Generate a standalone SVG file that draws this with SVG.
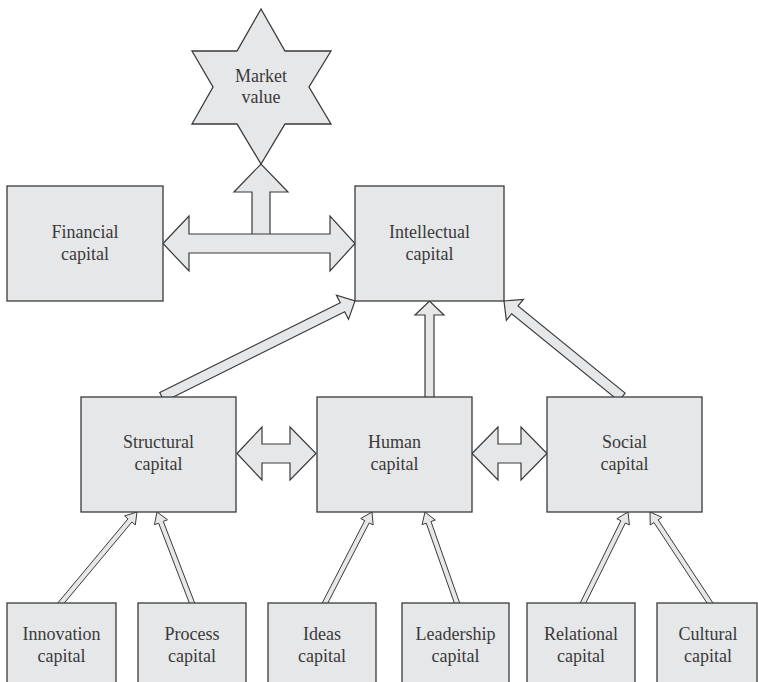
<svg xmlns="http://www.w3.org/2000/svg" width="758" height="682" viewBox="0 0 758 682">
<rect width="758" height="682" fill="#ffffff"/>
<g id="connectors" fill="#e6e7e8" stroke="#3a3a3a" stroke-width="1.2">
<polygon points="252,240 252,192 234,192 261,164 288,192 270,192 270,240"/>
<polygon points="163,243.5 189,216 189,234 330,234 330,216 355,243.5 330,271 330,253 189,253 189,271"/>
<polygon points="164.23,401.48 344.70,311.72 348.48,319.33 355,301 336.46,295.15 340.24,302.76 159.77,392.52"/>
<polygon points="425,400 425,315 415,315 429.5,301 444,315 434,315 434,400"/>
<polygon points="625.16,393.12 518.02,305.96 523.38,299.37 504,301 506.34,320.31 511.70,313.72 618.84,400.88"/>
<polygon points="237,453.5 262,427 262,444 290,444 290,427 316,453.5 290,480 290,463 262,463 262,480"/>
<polygon points="472,453.5 498,427 498,444 521,444 521,427 547,453.5 521,480 521,463 498,463 498,480"/>
<g stroke-width="1">
<polygon points="59.72,608.44 131.87,522.04 135.32,524.93 137,512 124.58,515.95 128.03,518.84 55.88,605.24"/>
<polygon points="196.13,606.77 163.28,521.37 167.48,519.76 157,512 154.42,524.78 158.62,523.17 191.47,608.57"/>
<polygon points="324.93,608.59 369.17,522.92 373.17,524.98 372,512 360.73,518.56 364.73,520.62 320.49,606.29"/>
<polygon points="461.02,606.89 431.01,521.55 435.25,520.06 425,512 422.05,524.70 426.29,523.21 456.30,608.55"/>
<polygon points="583.02,608.59 625.36,522.97 629.39,524.96 628,512 616.85,518.76 620.88,520.75 578.54,606.37"/>
<polygon points="714.84,605.79 658.15,519.80 661.90,517.33 650,512 650.22,525.03 653.97,522.56 710.66,608.55"/>
</g>
</g>
<g id="nodes" fill="#e6e7e8" stroke="#3a3a3a" stroke-width="1.3">
<g id="market-value">
<polygon points="261,9 285,51 331,51 309,87 331,124 285,124 261,164 237,124 192,124 213,87 192,51 237,51"/>
</g>
<g id="financial-capital"><rect x="7" y="186" width="156" height="115"/></g>
<g id="intellectual-capital"><rect x="355" y="186" width="149" height="115"/></g>
<g id="structural-capital"><rect x="81" y="397" width="155" height="115"/></g>
<g id="human-capital"><rect x="317" y="397" width="155" height="115"/></g>
<g id="social-capital"><rect x="547" y="397" width="155" height="115"/></g>
<g id="innovation-capital"><rect x="7" y="603" width="109" height="100"/></g>
<g id="process-capital"><rect x="138" y="603" width="108" height="100"/></g>
<g id="ideas-capital"><rect x="268" y="603" width="108" height="100"/></g>
<g id="leadership-capital"><rect x="402" y="603" width="107" height="100"/></g>
<g id="relational-capital"><rect x="527" y="603" width="108" height="100"/></g>
<g id="cultural-capital"><rect x="657" y="603" width="100" height="100"/></g>
</g>
<g id="labels" font-family="Liberation Serif" font-size="18" fill="#3a3a3a" text-anchor="middle">
<text x="261" y="82">Market</text>
<text x="261" y="103">value</text>
<text x="85" y="238">Financial</text>
<text x="85" y="260">capital</text>
<text x="429.5" y="238">Intellectual</text>
<text x="429.5" y="260">capital</text>
<text x="158.5" y="448">Structural</text>
<text x="158.5" y="470">capital</text>
<text x="394.5" y="448">Human</text>
<text x="394.5" y="470">capital</text>
<text x="624.5" y="448">Social</text>
<text x="624.5" y="470">capital</text>
<text x="61.5" y="640">Innovation</text>
<text x="61.5" y="662">capital</text>
<text x="192" y="640">Process</text>
<text x="192" y="662">capital</text>
<text x="322" y="640">Ideas</text>
<text x="322" y="662">capital</text>
<text x="455.5" y="640">Leadership</text>
<text x="455.5" y="662">capital</text>
<text x="581" y="640">Relational</text>
<text x="581" y="662">capital</text>
<text x="708" y="640">Cultural</text>
<text x="708" y="662">capital</text>
</g>
</svg>
